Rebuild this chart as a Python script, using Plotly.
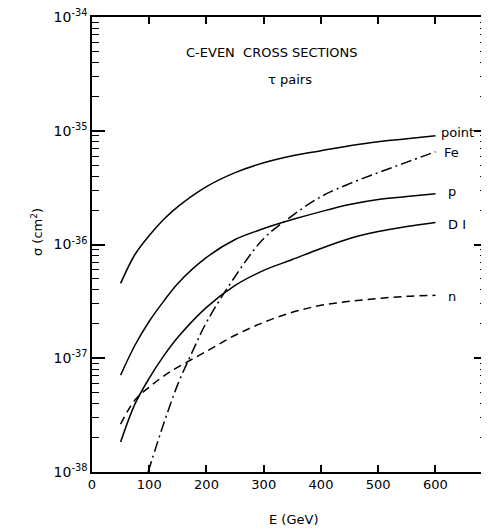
import plotly.graph_objects as go

# Energies (GeV) and log10 of sigma (cm^2)
E_main = [50, 75, 100, 125, 150, 200, 250, 300, 350, 400, 450, 500, 550, 600]
log_point = [-36.342, -36.088, -35.921, -35.781, -35.667, -35.491, -35.368, -35.281, -35.219, -35.175, -35.132, -35.096, -35.070, -35.044]
log_p = [-37.149, -36.886, -36.675, -36.500, -36.342, -36.114, -35.956, -35.860, -35.781, -35.711, -35.649, -35.605, -35.579, -35.553]
log_D1 = [-37.737, -37.404, -37.175, -36.982, -36.816, -36.553, -36.360, -36.228, -36.132, -36.035, -35.947, -35.886, -35.842, -35.807]
log_n = [-37.579, -37.368, -37.254, -37.158, -37.079, -36.939, -36.798, -36.684, -36.596, -36.535, -36.500, -36.474, -36.456, -36.447]
E_Fe = [98, 125, 150, 175, 200, 250, 300, 350, 400, 450, 500, 550, 600]
log_Fe = [-38.0, -37.579, -37.228, -36.947, -36.684, -36.281, -35.947, -35.746, -35.579, -35.465, -35.368, -35.276, -35.184]

x_ticks = [0, 100, 200, 300, 400, 500, 600]
decades = [-38, -37, -36, -35, -34]

FONT = "DejaVu Sans"

fig = go.Figure()

def add(E, logs, dash):
    fig.add_trace(go.Scatter(
        x=E, y=[10 ** v for v in logs], mode="lines",
        line=dict(color="black", width=1.5, dash=dash, shape="spline", smoothing=1.0),
        showlegend=False, hoverinfo="skip"))

add(E_main, log_point, "solid")
add(E_main, log_p, "solid")
add(E_main, log_D1, "solid")
add(E_main, log_n, "8px,5px")
add(E_Fe, log_Fe, "11px,4px,2px,4px")

minor_vals = [m * 10.0 ** d for d in decades[:-1] for m in range(2, 10)]

fig.update_xaxes(
    range=[0, 690], showline=True, linecolor="black", linewidth=1.5, mirror="ticks",
    ticks="inside", ticklen=7, tickwidth=1.5, tickcolor="black", automargin=False,
    tickvals=x_ticks, ticktext=[str(v) for v in x_ticks],
    showgrid=False, zeroline=False,
    tickfont=dict(family=FONT, size=13, color="black"))

fig.update_yaxes(
    type="log", range=[-38.0005, -33.9995], showline=True, linecolor="black", linewidth=1.5,
    mirror="ticks", ticklabeloverflow="allow", automargin=False,
    ticks="inside", ticklen=13, tickwidth=1.5, tickcolor="black",
    tickvals=[10.0 ** d for d in decades],
    ticktext=["10<sup>%d</sup>" % d for d in decades],
    minor=dict(ticks="inside", ticklen=7, tickwidth=1.2, tickcolor="black",
               tickvals=minor_vals, showgrid=False),
    showgrid=False, zeroline=False,
    tickfont=dict(family=FONT, size=14, color="black"))

labels = [("point", 606, -35.018), ("Fe", 611, -35.193), ("p", 618, -35.535),
          ("D I", 618, -35.825), ("n", 618, -36.456)]
for txt, xe, yl in labels:
    fig.add_annotation(x=xe, y=yl, text=txt, showarrow=False, xanchor="left",
                       yanchor="middle", font=dict(family=FONT, size=13, color="black"))

fig.add_annotation(x=314, y=-34.316, text="C-EVEN  CROSS SECTIONS", showarrow=False,
                   font=dict(family=FONT, size=13, color="black"))
fig.add_annotation(x=345, y=-34.553, text="τ pairs", showarrow=False,
                   font=dict(family=FONT, size=13, color="black"))

fig.add_annotation(xref="paper", yref="paper", x=-0.165, y=0.527, text="σ (cm<sup>2</sup>)",
                   textangle=-90, showarrow=False, font=dict(family=FONT, size=13, color="black"))
fig.add_annotation(xref="paper", yref="paper", x=0.509, y=-0.105, text="E (GeV)",
                   showarrow=False, yanchor="middle", font=dict(family=FONT, size=13, color="black"))

fig.update_layout(width=481, height=521, margin=dict(l=84, r=2, t=9, b=57),
                  plot_bgcolor="white", paper_bgcolor="white")

fig.write_html("out.html")
